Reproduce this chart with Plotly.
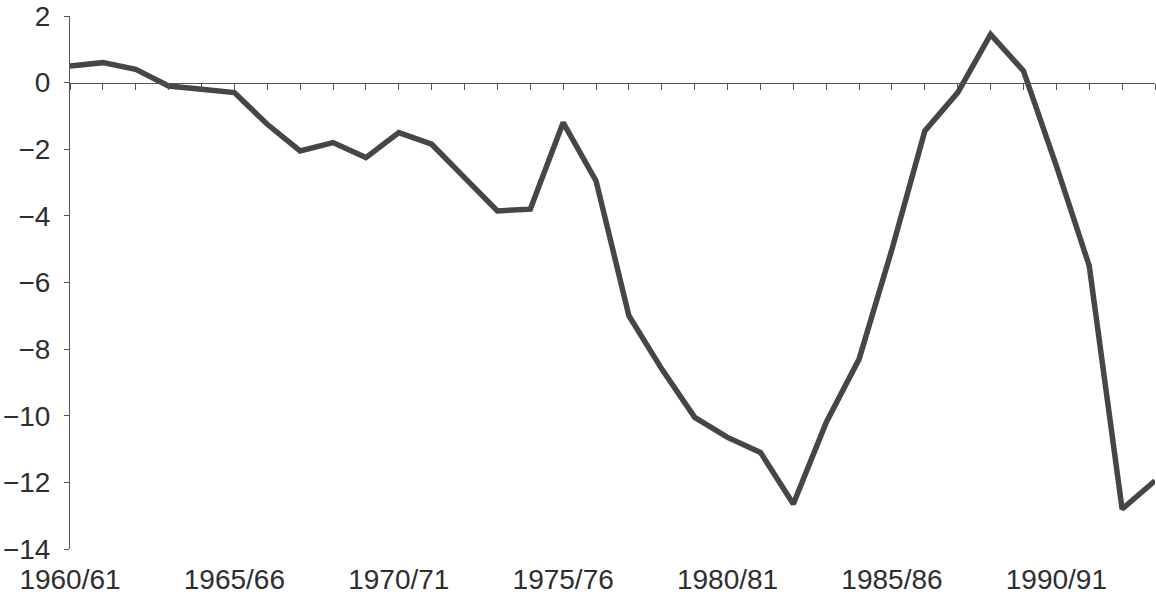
import plotly.graph_objects as go

years = [f"{y}/{(y + 1) % 100:02d}" for y in range(1960, 1994)]
values = [0.5, 0.6, 0.4, -0.1, -0.2, -0.3, -1.25, -2.05, -1.8, -2.25,
          -1.5, -1.85, -2.85, -3.85, -3.8, -1.2, -2.95, -7.0, -8.6, -10.05,
          -10.65, -11.1, -12.65, -10.2, -8.3, -5.0, -1.45, -0.3, 1.45, 0.35,
          -2.5, -5.5, -12.8, -11.95]
label_every = 5
y_ticks = list(range(-14, 3, 2))

idx = list(range(len(years)))
tickvals = idx[::label_every]
ticktext = years[::label_every]

FONT = "Liberation Sans, Arial, sans-serif"
TXT = "#2e2e2e"
AX = "#555555"

fig = go.Figure()
fig.add_trace(go.Scatter(x=idx, y=values, mode="lines",
                         line=dict(color="#464646", width=5.5),
                         showlegend=False, hoverinfo="x+y"))
# invisible trace carrying the bottom label axis
fig.add_trace(go.Scatter(x=idx, y=values, mode="lines", xaxis="x2",
                         line=dict(color="rgba(0,0,0,0)", width=0),
                         showlegend=False, hoverinfo="skip"))

fig.update_layout(
    width=1156, height=598,
    margin=dict(l=70, r=1, t=16, b=49, autoexpand=False),
    paper_bgcolor="white", plot_bgcolor="white",
    font=dict(family=FONT, color=TXT),
    xaxis=dict(range=[0, len(years) - 1], anchor="free", position=14 / 16,
               showline=True, linecolor=AX, linewidth=1,
               ticks="outside", tickcolor=AX, ticklen=6, tickwidth=1,
               dtick=1, tick0=0, showticklabels=False, showgrid=False,
               zeroline=False, automargin=False),
    xaxis2=dict(range=[0, len(years) - 1], overlaying="x", side="bottom",
                anchor="y", tickmode="array", tickvals=tickvals,
                ticktext=ticktext, showline=False, ticks="",
                showgrid=False, zeroline=False, automargin=False,
                ticklabeloverflow="allow",
                tickfont=dict(size=28, color=TXT, family=FONT),
                ticklabelstandoff=11),
    yaxis=dict(range=[-14, 2], tickmode="array", tickvals=y_ticks,
               showline=True, linecolor=AX, linewidth=1,
               ticks="outside", tickcolor=AX, ticklen=5, tickwidth=1,
               showgrid=False, zeroline=False, automargin=False,
               ticklabeloverflow="allow",
               tickfont=dict(size=28, color=TXT, family=FONT),
               ticklabelstandoff=8),
)

fig.write_html("out.html", config={"displayModeBar": False},
               post_script="document.body.style.margin='0';")
